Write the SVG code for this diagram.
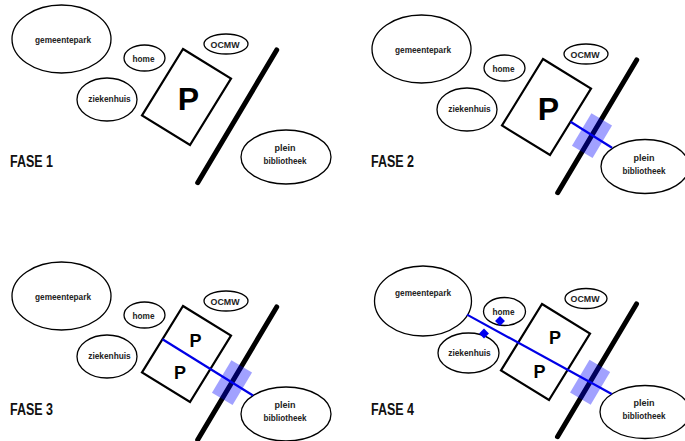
<svg xmlns="http://www.w3.org/2000/svg" width="685" height="441" viewBox="0 0 685 441">
<style>
.node ellipse{fill:#fff;stroke:#000;stroke-width:1.3}
.lbl{font-family:"Liberation Sans",Arial,sans-serif;font-size:9.5px;font-weight:bold;fill:#222;text-anchor:middle}
.fase{font-family:"Liberation Sans",Arial,sans-serif;font-size:16px;font-weight:bold;fill:#111}
.park{fill:#fff;stroke:#000;stroke-width:2.2}
.pbig{font-family:"Liberation Sans",Arial,sans-serif;font-size:32px;font-weight:bold;fill:#000;text-anchor:middle}
.psmall{font-family:"Liberation Sans",Arial,sans-serif;font-size:18px;font-weight:bold;fill:#000;text-anchor:middle}
.road{stroke:#000;stroke-width:5;stroke-linecap:round;fill:none}
.link{stroke:#0000e6;stroke-width:2.2;fill:none}
.cross{fill:#0000ff;fill-opacity:0.37}
.gate{fill:#0000f0}
</style>

<!-- FASE 1 -->
<g id="fase1">
  <g id="f1-gemeentepark" class="node"><ellipse cx="61.5" cy="39" rx="49.5" ry="34"/><text class="lbl" x="63" y="43" textLength="56" lengthAdjust="spacingAndGlyphs">gemeentepark</text></g>
  <g id="f1-home" class="node"><ellipse cx="144.5" cy="58" rx="20.5" ry="13"/><text class="lbl" x="143.5" y="61.5" textLength="22" lengthAdjust="spacingAndGlyphs">home</text></g>
  <g id="f1-ocmw" class="node"><ellipse cx="226" cy="44" rx="22" ry="10"/><text class="lbl" x="225" y="47.5" textLength="29" lengthAdjust="spacingAndGlyphs">OCMW</text></g>
  <g id="f1-ziekenhuis" class="node"><ellipse cx="107" cy="99.5" rx="30" ry="21.5"/><text class="lbl" x="109.5" y="101.5" textLength="42.5" lengthAdjust="spacingAndGlyphs">ziekenhuis</text></g>
  <g id="f1-parking"><polygon class="park" points="183,49 231,78.5 190,145 142,115.5"/><text class="pbig" x="188.5" y="110">P</text></g>
  <line id="f1-road" class="road" x1="276.7" y1="50" x2="197.7" y2="182.7"/>
  <g id="f1-plein" class="node"><ellipse cx="286" cy="157" rx="45" ry="27"/><text class="lbl" x="285" y="151" textLength="21" lengthAdjust="spacingAndGlyphs">plein</text><text class="lbl" x="285" y="164" textLength="43" lengthAdjust="spacingAndGlyphs">bibliotheek</text></g>
  <text class="fase" x="10" y="167" textLength="43" lengthAdjust="spacingAndGlyphs">FASE 1</text>
</g>

<!-- FASE 2 -->
<g id="fase2" transform="translate(360,10)">
  <g id="f2-gemeentepark" class="node"><ellipse cx="61.5" cy="39" rx="49.5" ry="34"/><text class="lbl" x="63" y="43" textLength="56" lengthAdjust="spacingAndGlyphs">gemeentepark</text></g>
  <g id="f2-home" class="node"><ellipse cx="144.5" cy="58" rx="20.5" ry="13"/><text class="lbl" x="143.5" y="61.5" textLength="22" lengthAdjust="spacingAndGlyphs">home</text></g>
  <g id="f2-ocmw" class="node"><ellipse cx="226" cy="44" rx="22" ry="10"/><text class="lbl" x="225" y="47.5" textLength="29" lengthAdjust="spacingAndGlyphs">OCMW</text></g>
  <g id="f2-ziekenhuis" class="node"><ellipse cx="107" cy="99.5" rx="30" ry="21.5"/><text class="lbl" x="109.5" y="101.5" textLength="42.5" lengthAdjust="spacingAndGlyphs">ziekenhuis</text></g>
  <g id="f2-parking"><polygon class="park" points="183,49 231,78.5 190,145 142,115.5"/><text class="pbig" x="188.5" y="110">P</text></g>
  <line id="f2-road" class="road" x1="276.7" y1="50" x2="197.7" y2="182.7"/>
  <g id="f2-plein" class="node"><ellipse cx="285" cy="156.5" rx="44" ry="27"/><text class="lbl" x="284" y="151" textLength="21" lengthAdjust="spacingAndGlyphs">plein</text><text class="lbl" x="284" y="164" textLength="43" lengthAdjust="spacingAndGlyphs">bibliotheek</text></g>
  <g id="f2-connectors">
    <line class="link" x1="210.5" y1="111.8" x2="252" y2="137.7"/>
    <rect class="cross" x="-19" y="-12" width="38" height="24" transform="translate(232,125.6) rotate(120.8)"/>
  </g>
  <text class="fase" x="11" y="157" textLength="43" lengthAdjust="spacingAndGlyphs">FASE 2</text>
</g>

<!-- FASE 3 -->
<g id="fase3" transform="translate(0,257)">
  <g id="f3-gemeentepark" class="node"><ellipse cx="61.5" cy="39" rx="49.5" ry="34"/><text class="lbl" x="63" y="43" textLength="56" lengthAdjust="spacingAndGlyphs">gemeentepark</text></g>
  <g id="f3-home" class="node"><ellipse cx="144.5" cy="58" rx="20.5" ry="13"/><text class="lbl" x="143.5" y="61.5" textLength="22" lengthAdjust="spacingAndGlyphs">home</text></g>
  <g id="f3-ocmw" class="node"><ellipse cx="226" cy="44" rx="22" ry="10"/><text class="lbl" x="225" y="47.5" textLength="29" lengthAdjust="spacingAndGlyphs">OCMW</text></g>
  <g id="f3-ziekenhuis" class="node"><ellipse cx="107" cy="99.5" rx="30" ry="21.5"/><text class="lbl" x="109.5" y="101.5" textLength="42.5" lengthAdjust="spacingAndGlyphs">ziekenhuis</text></g>
  <g id="f3-parking"><polygon class="park" points="183,49 231,78.5 190,145 142,115.5"/><text class="psmall" x="195.5" y="90">P</text><text class="psmall" x="180" y="122">P</text></g>
  <line id="f3-road" class="road" x1="276.7" y1="50" x2="197.7" y2="182.7"/>
  <g id="f3-plein" class="node"><ellipse cx="286" cy="157" rx="45" ry="27"/><text class="lbl" x="285" y="151" textLength="21" lengthAdjust="spacingAndGlyphs">plein</text><text class="lbl" x="285" y="164" textLength="43" lengthAdjust="spacingAndGlyphs">bibliotheek</text></g>
  <g id="f3-connectors">
    <line class="link" x1="162.5" y1="82.3" x2="253" y2="138.5"/>
    <rect class="cross" x="-19" y="-12" width="38" height="24" transform="translate(232,125.6) rotate(120.8)"/>
  </g>
  <text class="fase" x="10" y="158" textLength="43" lengthAdjust="spacingAndGlyphs">FASE 3</text>
</g>

<!-- FASE 4 -->
<g id="fase4" transform="translate(359,255)">
  <g id="f4-gemeentepark" class="node"><ellipse cx="64" cy="46" rx="48.5" ry="35"/><text class="lbl" x="64" y="41" textLength="56" lengthAdjust="spacingAndGlyphs">gemeentepark</text></g>
  <g id="f4-home" class="node"><ellipse cx="145.5" cy="56.5" rx="21" ry="14"/><text class="lbl" x="144.5" y="60" textLength="22" lengthAdjust="spacingAndGlyphs">home</text></g>
  <g id="f4-ocmw" class="node"><ellipse cx="227" cy="43.5" rx="21" ry="10"/><text class="lbl" x="226" y="47" textLength="29" lengthAdjust="spacingAndGlyphs">OCMW</text></g>
  <g id="f4-ziekenhuis" class="node"><ellipse cx="109.5" cy="98" rx="30.5" ry="20"/><text class="lbl" x="110.5" y="101" textLength="42.5" lengthAdjust="spacingAndGlyphs">ziekenhuis</text></g>
  <g id="f4-parking"><polygon class="park" points="183,49 231,78.5 190,145 142,115.5"/><text class="psmall" x="196" y="89">P</text><text class="psmall" x="180.5" y="122.5">P</text></g>
  <line id="f4-road" class="road" x1="277.5" y1="49" x2="198.5" y2="181.7"/>
  <g id="f4-plein" class="node"><ellipse cx="286" cy="157" rx="45" ry="26.5"/><text class="lbl" x="285" y="151" textLength="21" lengthAdjust="spacingAndGlyphs">plein</text><text class="lbl" x="285" y="164" textLength="43" lengthAdjust="spacingAndGlyphs">bibliotheek</text></g>
  <g id="f4-connectors">
    <line class="link" x1="108" y1="59.6" x2="252.7" y2="139"/>
    <rect class="gate" x="-3.5" y="-3.5" width="7" height="7" transform="translate(141,66) rotate(45)"/>
    <rect class="gate" x="-3.5" y="-3.5" width="7" height="7" transform="translate(125,78.5) rotate(45)"/>
    <rect class="cross" x="-19" y="-12" width="38" height="24" transform="translate(231.1,127.2) rotate(120.8)"/>
  </g>
  <text class="fase" x="12" y="160" textLength="43" lengthAdjust="spacingAndGlyphs">FASE 4</text>
</g>
</svg>
